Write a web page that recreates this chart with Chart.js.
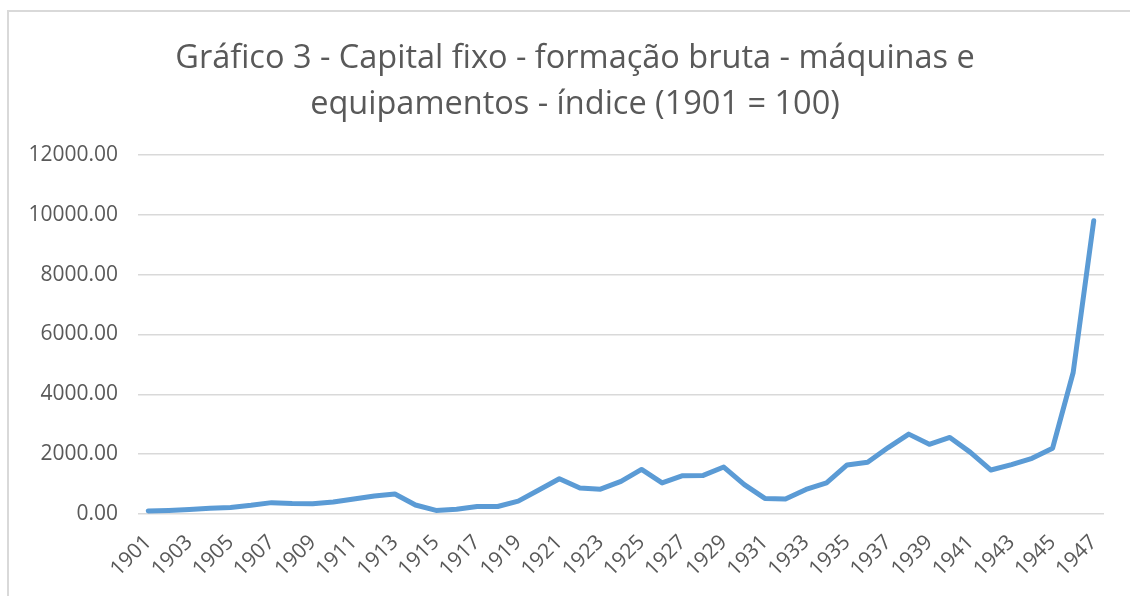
<!DOCTYPE html>
<html lang="pt">
<head>
<meta charset="utf-8">
<title>Gráfico 3 - Capital fixo</title>
<script src="https://cdn.jsdelivr.net/npm/chart.js@4/dist/chart.umd.min.js"></script>
<style>
  html, body { margin: 0; padding: 0; background: #fff; overflow: hidden; }
  .frame { position: absolute; left: 7px; top: 10px; width: 1200px; height: 700px;
           border-left: 2px solid #d9d9d9; border-top: 2px solid #d9d9d9; }
  #chart { position: absolute; left: 0; top: 0; }
</style>
</head>
<body>
<div class="frame"></div>
<canvas id="chart" width="1130" height="596"></canvas>
<script>
'use strict';

const TITLE = ['Gráfico 3 - Capital fixo - formação bruta - máquinas e', 'equipamentos - índice (1901 = 100)'];

const YEARS = [
  '1901', '1902', '1903', '1904', '1905', '1906', '1907', '1908', '1909', '1910',
  '1911', '1912', '1913', '1914', '1915', '1916', '1917', '1918', '1919', '1920',
  '1921', '1922', '1923', '1924', '1925', '1926', '1927', '1928', '1929', '1930',
  '1931', '1932', '1933', '1934', '1935', '1936', '1937', '1938', '1939', '1940',
  '1941', '1942', '1943', '1944', '1945', '1946', '1947',
];

// índice (1901 = 100)
const INDEX = [
  100, 120, 150, 190, 220, 290, 380, 350, 340, 400,
  500, 600, 670, 300, 120, 160, 250, 250, 430, 800,
  1180, 870, 830, 1090, 1490, 1040, 1280, 1290, 1570, 980,
  520, 500, 820, 1040, 1640, 1730, 2220, 2670, 2330, 2560,
  2060, 1470, 1650, 1860, 2200, 4730, 9800,
];

const Y_MIN  = 0;
const Y_MAX  = 12000;
const Y_STEP = 2000;

const TEXT = '#595959';
const GRID = '#d9d9d9';
const LINE = '#5b9bd5';
const FONT = '"Open Sans", sans-serif';

new Chart(document.getElementById('chart'), {
  type: 'line',
  data: {
    labels: YEARS,
    datasets: [{
      data: INDEX,
      borderColor: LINE,
      borderWidth: 5,
      borderJoinStyle: 'round',
      borderCapStyle: 'round',
      pointRadius: 0,
      tension: 0,
      fill: false,
    }],
  },
  options: {
    responsive: false,
    animation: false,
    devicePixelRatio: 1,
    layout: { padding: { left: 20, right: 0, top: 0, bottom: 0 } },
    scales: {
      x: {
        offset: true,
        grid: { display: false, drawTicks: false },
        border: { display: false },
        ticks: {
          color: TEXT,
          font: { family: FONT, size: 21 },
          autoSkip: false,
          minRotation: 45,
          maxRotation: 45,
          padding: 16,
          callback: (v, i) => (i % 2 === 0 ? YEARS[i] : ''),
        },
        afterFit: s => { s.height = 82; },
      },
      y: {
        min: Y_MIN, max: Y_MAX,
        grid: { color: GRID, lineWidth: 1.5, drawTicks: false },
        border: { display: false },
        ticks: {
          stepSize: Y_STEP,
          color: TEXT,
          font: { family: FONT, size: 21 },
          padding: 20,
          callback: v => v.toFixed(2),
        },
        afterFit: s => { s.width = 118; },
      },
      // empty right-hand margin so the title stays centred like the original
      yRight: {
        position: 'right',
        grid: { display: false, drawTicks: false },
        border: { display: false },
        ticks: { display: false },
        afterFit: s => { s.width = 26; },
      },
    },
    plugins: {
      legend: { display: false },
      tooltip: { enabled: false },
      title: {
        display: true,
        text: TITLE,
        color: TEXT,
        font: { family: FONT, size: 32.5, weight: 'normal', lineHeight: 1.4 },
        padding: { top: 36, bottom: 28 },
      },
    },
  },
});
</script>
</body>
</html>
